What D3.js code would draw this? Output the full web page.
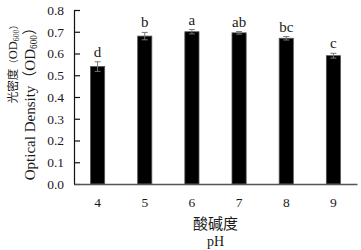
<!DOCTYPE html>
<html>
<head>
<meta charset="utf-8">
<script src="https://cdn.jsdelivr.net/npm/d3@7"></script>
<style>
  html, body { margin: 0; padding: 0; background: #fff; }
  svg { display: block; }
</style>
</head>
<body>
<div id="chart"></div>
<script>
// pH vs optical density bar chart with error bars and significance letters

const phLevels = ["4", "5", "6", "7", "8", "9"];
const odMeans  = [0.54, 0.68, 0.70, 0.695, 0.67, 0.59];
const odErrors = [0.022, 0.017, 0.01, 0.006, 0.008, 0.011];
const sigLetters = ["d", "b", "a", "ab", "bc", "c"];
const yTicks = [0, 0.1, 0.2, 0.3, 0.4, 0.5, 0.6, 0.7, 0.8];

const W = 361, H = 250;
const serif = "'Liberation Serif', 'Times New Roman', serif";
const cjk   = "'Noto Sans CJK SC', sans-serif";
const ink   = "#1a1a1a";

const svg = d3.select("#chart").append("svg")
  .attr("width", W).attr("height", H);

const x = d3.scaleBand()
  .domain(phLevels)
  .range([74, 357])
  .paddingInner(0.7)
  .paddingOuter(0.35);

const y = d3.scaleLinear().domain([0, 0.8]).range([184, 10]);

// Bars
svg.selectAll("rect.bar")
  .data(phLevels)
  .join("rect")
    .attr("class", "bar")
    .attr("x", d => x(d))
    .attr("y", (d, i) => y(odMeans[i]))
    .attr("width", x.bandwidth())
    .attr("height", (d, i) => y(0) - y(odMeans[i]))
    .attr("fill", "#000")
    .attr("stroke", "#555")
    .attr("stroke-width", 0.8);

// Error bars
const cap = 3;
phLevels.forEach((p, i) => {
  const cx = x(p) + x.bandwidth() / 2;
  const lo = y(odMeans[i] - odErrors[i]);
  const hi = y(odMeans[i] + odErrors[i]);
  const g = svg.append("g").attr("stroke", "#777").attr("stroke-width", 1);
  g.append("line").attr("x1", cx).attr("x2", cx).attr("y1", lo).attr("y2", hi);
  g.append("line").attr("x1", cx - cap).attr("x2", cx + cap).attr("y1", hi).attr("y2", hi);
  g.append("line").attr("x1", cx - cap).attr("x2", cx + cap).attr("y1", lo).attr("y2", lo);

  svg.append("text")
    .attr("x", cx)
    .attr("y", hi - 5)
    .attr("text-anchor", "middle")
    .attr("font-family", serif)
    .attr("font-size", "15px")
    .attr("fill", ink)
    .text(sigLetters[i]);
});

// Y axis (ticks point inward)
const yAxisG = svg.append("g")
  .attr("transform", "translate(74,0)")
  .call(d3.axisLeft(y).tickValues(yTicks).tickFormat(d3.format(".1f"))
    .tickSizeInner(-6).tickSizeOuter(0).tickPadding(10));
yAxisG.select(".domain").attr("stroke", "#111").attr("stroke-width", 1.2);
yAxisG.selectAll(".tick line").attr("stroke", "#111").attr("stroke-width", 1.2);
yAxisG.selectAll("text")
  .attr("fill", ink)
  .attr("font-family", serif)
  .attr("font-size", "13.5px");

// X axis
const xAxisG = svg.append("g")
  .attr("transform", `translate(0,${y(0)})`)
  .call(d3.axisBottom(x).tickSize(0).tickPadding(13));
xAxisG.select(".domain").attr("stroke", "#555").attr("stroke-width", 1.5);
xAxisG.selectAll("text")
  .attr("fill", ink)
  .attr("font-family", serif)
  .attr("font-size", "13.5px");

// X axis title
const xMid = (74 + 357) / 2;
svg.append("text")
  .attr("x", xMid).attr("y", 229)
  .attr("text-anchor", "middle")
  .attr("font-family", cjk)
  .attr("font-size", "15px")
  .attr("fill", ink)
  .text("酸碱度");
svg.append("text")
  .attr("x", xMid).attr("y", 246)
  .attr("text-anchor", "middle")
  .attr("font-family", serif)
  .attr("font-size", "14px")
  .attr("fill", ink)
  .text("pH");

// Y axis titles, two rotated lines
function yTitle(bx, main, mainFont, mainSize, odSize, parenSize) {
  const t = svg.append("text")
    .attr("transform", `translate(${bx},20) rotate(-90)`)
    .attr("text-anchor", "end")
    .attr("fill", ink);
  t.append("tspan").attr("font-family", mainFont).attr("font-size", mainSize + "px").text(main);
  t.append("tspan").attr("font-family", cjk).attr("font-size", parenSize + "px").text("（");
  t.append("tspan").attr("font-family", serif).attr("font-size", odSize + "px").text("OD");
  t.append("tspan").attr("font-family", serif).attr("font-size", (odSize * 0.62) + "px")
    .attr("dy", 2).text("600");
  t.append("tspan").attr("font-family", cjk).attr("font-size", parenSize + "px")
    .attr("dy", -2).text("）");
}
yTitle(17, "光密度", cjk, 11.5, 12.5, 9.5);
yTitle(35, "Optical Density", serif, 15, 15, 15);
</script>
</body>
</html>
